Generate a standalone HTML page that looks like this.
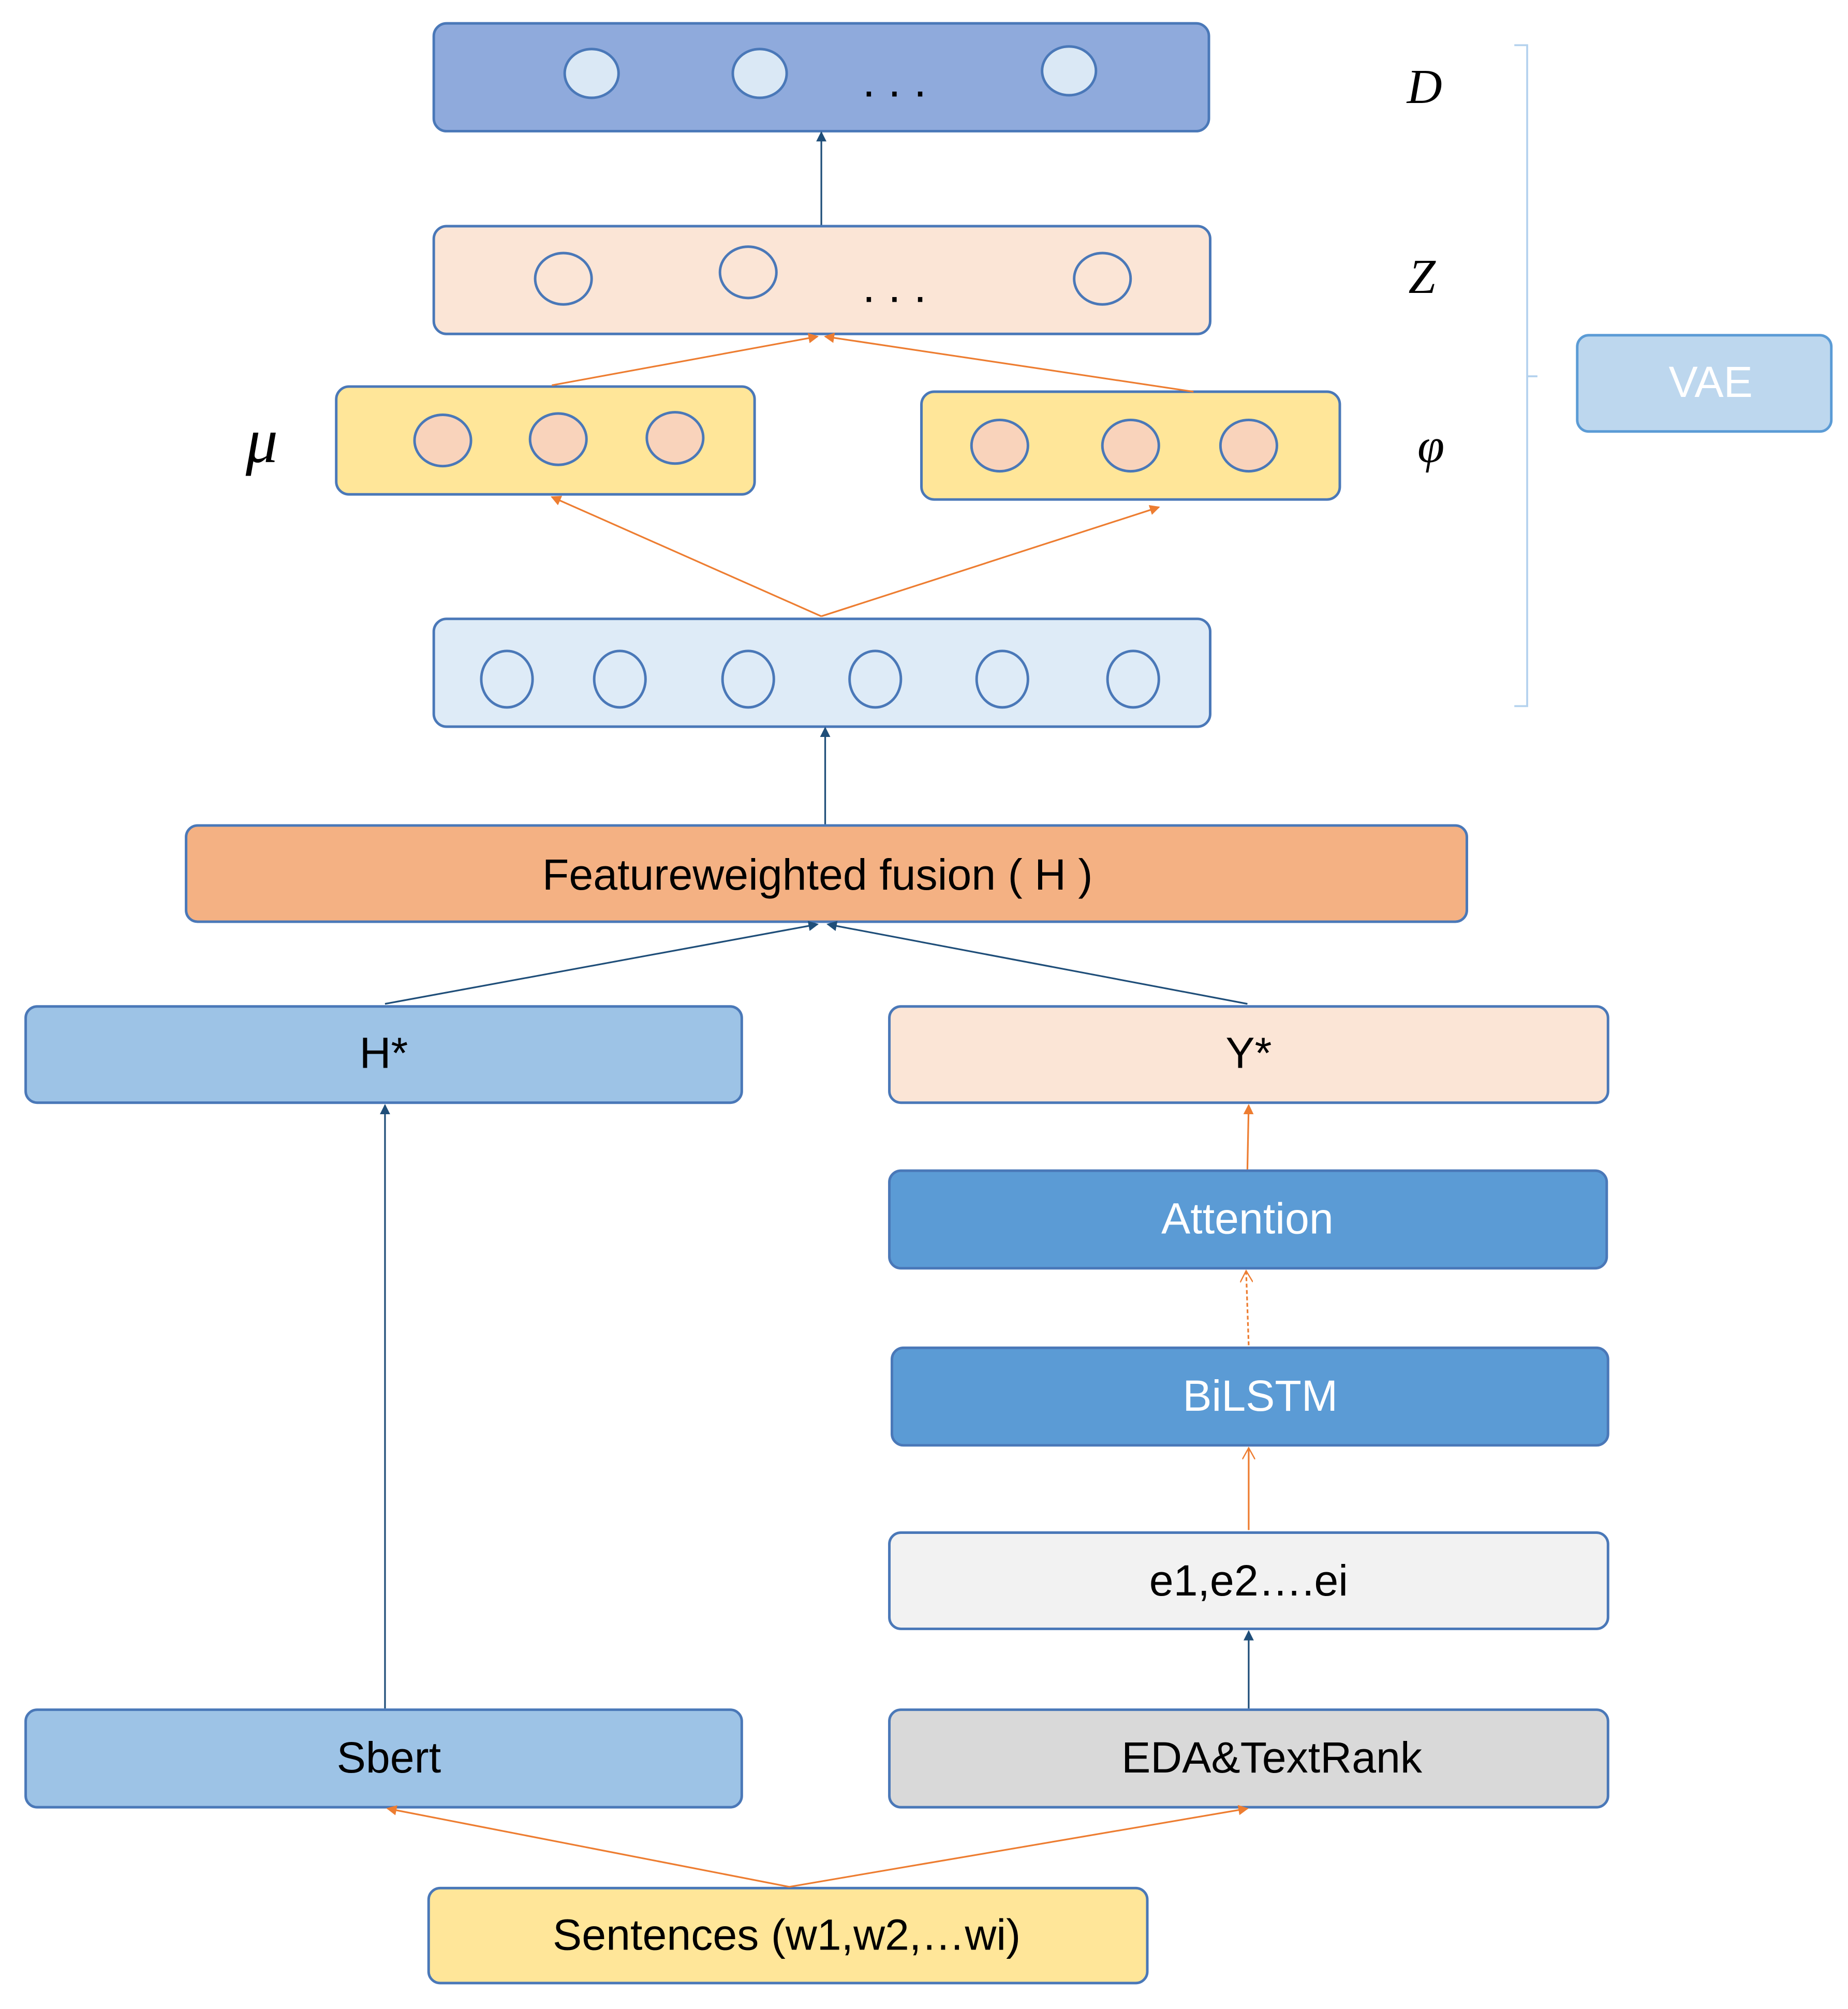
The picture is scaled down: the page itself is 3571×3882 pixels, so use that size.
<!DOCTYPE html>
<html><head><meta charset="utf-8"><style>html,body{margin:0;padding:0;background:#fff}svg{display:block}</style></head>
<body>
<svg width="3571" height="3882" viewBox="0 0 1440 1565" xmlns="http://www.w3.org/2000/svg" font-family="Liberation Sans, sans-serif">
<defs>
<marker id="ab" markerWidth="8" markerHeight="8" refX="7" refY="4" orient="auto" markerUnits="userSpaceOnUse"><path d="M0,0 L8,4 L0,8 z" fill="#1f4e79"/></marker>
<marker id="ao" markerWidth="8" markerHeight="8" refX="7" refY="4" orient="auto" markerUnits="userSpaceOnUse"><path d="M0,0 L8,4 L0,8 z" fill="#ed7d31"/></marker>
<marker id="aoo" markerWidth="10" markerHeight="10" refX="9" refY="5" orient="auto" markerUnits="userSpaceOnUse"><path d="M0,0 L9,5 L0,10" fill="none" stroke="#ed7d31" stroke-width="1"/></marker>
</defs>
<g stroke="#4a78b8" stroke-width="2">
<rect x="338" y="18" width="604" height="84" rx="10" fill="#8faadc"/>
<rect x="338" y="176" width="605" height="84" rx="10" fill="#fbe5d6"/>
<rect x="262" y="301" width="326" height="84" rx="10" fill="#ffe699"/>
<rect x="718" y="305" width="326" height="84" rx="10" fill="#ffe699"/>
<rect x="338" y="482" width="605" height="84" rx="10" fill="#deebf7"/>
<rect x="145" y="643" width="998" height="75" rx="9" fill="#f4b183"/>
<rect x="20" y="784" width="558" height="75" rx="9" fill="#9dc3e6"/>
<rect x="693" y="784" width="560" height="75" rx="9" fill="#fbe5d6"/>
<rect x="693" y="912" width="559" height="76" rx="9" fill="#5b9bd5"/>
<rect x="695" y="1050" width="558" height="76" rx="9" fill="#5b9bd5"/>
<rect x="693" y="1194" width="560" height="75" rx="9" fill="#f2f2f2"/>
<rect x="693" y="1332" width="560" height="76" rx="9" fill="#d9d9d9"/>
<rect x="20" y="1332" width="558" height="76" rx="9" fill="#9dc3e6"/>
<rect x="334" y="1471" width="560" height="74" rx="9" fill="#ffe699"/>
<rect x="1229" y="261" width="198" height="75" rx="9" fill="#bdd7ee" stroke="#5b9bd5"/>
</g>
<g stroke="#4a78b8" stroke-width="2">
<g fill="#dae8f5"><ellipse cx="461" cy="57" rx="21" ry="19"/><ellipse cx="592" cy="57" rx="21" ry="19"/><ellipse cx="833" cy="55" rx="21" ry="19"/></g>
<g fill="#fbe5d6"><ellipse cx="439" cy="217" rx="22" ry="20"/><ellipse cx="583" cy="212" rx="22" ry="20"/><ellipse cx="859" cy="217" rx="22" ry="20"/></g>
<g fill="#f9d3bb"><ellipse cx="345" cy="343" rx="22" ry="20"/><ellipse cx="435" cy="342" rx="22" ry="20"/><ellipse cx="526" cy="341" rx="22" ry="20"/>
<ellipse cx="779" cy="347" rx="22" ry="20"/><ellipse cx="881" cy="347" rx="22" ry="20"/><ellipse cx="973" cy="347" rx="22" ry="20"/></g>
<g fill="#deebf7"><ellipse cx="395" cy="529" rx="20" ry="22"/><ellipse cx="483" cy="529" rx="20" ry="22"/><ellipse cx="583" cy="529" rx="20" ry="22"/><ellipse cx="682" cy="529" rx="20" ry="22"/><ellipse cx="781" cy="529" rx="20" ry="22"/><ellipse cx="883" cy="529" rx="20" ry="22"/></g>
</g>
<g font-size="36" text-anchor="middle" fill="#000"><text x="697" y="75">. . .</text><text x="697" y="235">. . .</text></g>
<g font-family="Liberation Serif, serif" font-style="italic" font-size="38" text-anchor="middle">
<text x="1110" y="80">D</text><text x="1108" y="228">Z</text><text x="1115" y="360">φ</text><text x="204" y="360" font-size="50">μ</text></g>
<path d="M1180,35 H1190 V293 H1198 M1190,293 V550 H1180" fill="none" stroke="#b4d2ee" stroke-width="1.5"/>
<g stroke-width="1.3" fill="none">
<line x1="640" y1="175" x2="640" y2="103" stroke="#1f4e79" marker-end="url(#ab)"/>
<line x1="430" y1="300" x2="637" y2="262" stroke="#ed7d31" marker-end="url(#ao)"/>
<line x1="930" y1="305" x2="643" y2="262" stroke="#ed7d31" marker-end="url(#ao)"/>
<line x1="640" y1="480" x2="430" y2="387" stroke="#ed7d31" marker-end="url(#ao)"/>
<line x1="640" y1="480" x2="903" y2="395" stroke="#ed7d31" marker-end="url(#ao)"/>
<line x1="643" y1="642" x2="643" y2="567" stroke="#1f4e79" marker-end="url(#ab)"/>
<line x1="300" y1="782" x2="637" y2="720" stroke="#1f4e79" marker-end="url(#ab)"/>
<line x1="972" y1="782" x2="645" y2="720" stroke="#1f4e79" marker-end="url(#ab)"/>
<line x1="300" y1="1331" x2="300" y2="861" stroke="#1f4e79" marker-end="url(#ab)"/>
<line x1="972" y1="911" x2="973" y2="861" stroke="#ed7d31" marker-end="url(#ao)"/>
<line x1="973" y1="1048" x2="971" y2="990" stroke="#ed7d31" stroke-dasharray="3,2" marker-end="url(#aoo)"/>
<line x1="973" y1="1192" x2="973" y2="1128" stroke="#ed7d31" marker-end="url(#aoo)"/>
<line x1="973" y1="1331" x2="973" y2="1271" stroke="#1f4e79" marker-end="url(#ab)"/>
<line x1="615" y1="1470" x2="302" y2="1409" stroke="#ed7d31" marker-end="url(#ao)"/>
<line x1="615" y1="1470" x2="972" y2="1409" stroke="#ed7d31" marker-end="url(#ao)"/>
</g>
<g font-size="34" text-anchor="middle" fill="#000">
<text x="637" y="693">Featureweighted fusion ( H )</text>
<text x="299" y="832">H*</text>
<text x="973" y="832">Y*</text>
<text x="972" y="961" fill="#fff">Attention</text>
<text x="982" y="1099" fill="#fff">BiLSTM</text>
<text x="973" y="1243">e1,e2….ei</text>
<text x="991" y="1381">EDA&amp;TextRank</text>
<text x="303" y="1381">Sbert</text>
<text x="613" y="1519">Sentences (w1,w2,…wi)</text>
<text x="1333" y="309" fill="#fff">VAE</text>
</g>
</svg>
</body></html>
